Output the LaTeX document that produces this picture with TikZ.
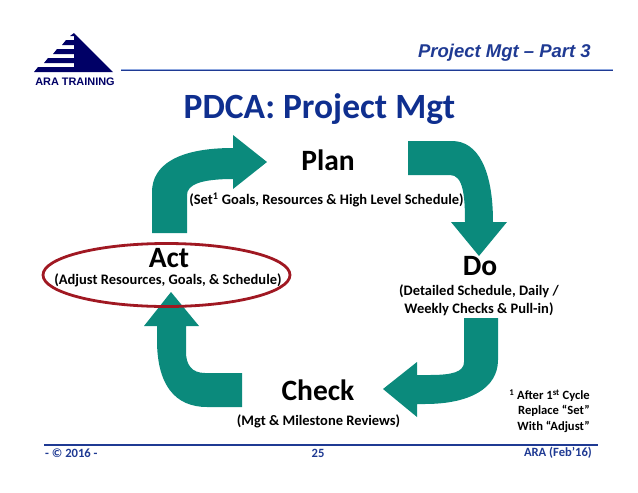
\documentclass[tikz,border=0pt]{standalone}
\usepackage{fontspec}
\setmainfont{Carlito}
\newfontfamily\headfont{Liberation Sans}
\definecolor{aranavy}{HTML}{000066}
\definecolor{arablue}{HTML}{1F3A93}
\definecolor{aralight}{HTML}{8FA8E0}
\definecolor{arateal}{HTML}{0B8A7C}
\definecolor{arared}{HTML}{A01822}
\definecolor{aratitle}{HTML}{0F2F8F}
\begin{document}
\begin{tikzpicture}[
    x=1pt, y=-1pt,
    every node/.style={inner sep=0pt, align=center},
    stage/.style={font=\fontsize{29.5}{30}\selectfont\bfseries, text=black},
    detail/.style={font=\fontsize{14.5}{18}\selectfont\bfseries, text=black},
    footer/.style={font=\fontsize{12.6}{13}\selectfont\bfseries, text=arablue},
    cyclearrow/.style={fill=arateal, draw=none},
    rule/.style={draw=arablue, line width=1.3pt}
]
  \useasboundingbox (0,0) rectangle (638,493);

  % Logo
  \fill[aranavy] (74,33) -- (113,72) -- (34,72) -- (38,67) -- (74,67) -- (74,63)
    -- (44,63) -- (48,58) -- (74,58) -- (74,54) -- (53,54) -- (57,49) -- (74,49)
    -- (74,45) -- (62,45) -- (66,40) -- (74,40) -- (74,36) -- (70,36) -- cycle;
  \node[font=\headfont\fontsize{10.9}{11}\selectfont\bfseries, text=aranavy] (logo) at (75,82) {ARA TRAINING};

  % Header and footer
  \draw[aralight, line width=1pt] (121,69.3) -- (613,69.3);
  \draw[rule] (121,70.8) -- (613,70.8);
  \draw[rule] (44,445) -- (598,445);
  \node[anchor=east, font=\headfont\fontsize{18.5}{19}\selectfont\bfseries\itshape, text=arablue] (part) at (591,53) {Project Mgt \textendash{} Part 3};
  \node[font=\fontsize{35.5}{36}\selectfont\bfseries, text=aratitle] (title) at (319.5,109.5) {PDCA: Project Mgt};

  % Arrows
  \path[cyclearrow] (152,233) -- (152,192) .. controls (152,165) and (178,148) .. (233,148)
    -- (233,135) -- (267,162) -- (233,189) -- (233,179)
    .. controls (200,179) and (187,185) .. (187,195) -- (187,233) -- cycle;
  \path[cyclearrow] (408,141) -- (452,141) .. controls (478,141) and (493,170) .. (493,222)
    -- (507,222) -- (479,256) -- (451,222) -- (465,222)
    .. controls (465,195) and (463,175) .. (450,175) -- (408,175) -- cycle;
  \path[cyclearrow] (498,318) -- (498,360) .. controls (498,388) and (470,404) .. (425,404)
    -- (417,404) -- (417,417) -- (383,389) -- (417,362) -- (417,375) -- (430,375)
    .. controls (452,375) and (464,372) .. (464,362) -- (464,318) -- cycle;
  \path[cyclearrow] (242,407) -- (207,407) .. controls (175,407) and (157,385) .. (157,340)
    -- (157,326) -- (144,326) -- (171,292) -- (199,326) -- (186,326) -- (186,352)
    .. controls (186,365) and (192,373) .. (205,373) -- (242,373) -- cycle;

  % Highlight
  \draw[arared, line width=2.8pt] (166.5,275) ellipse [x radius=123.5, y radius=31.5];

  % Labels
  \node[stage] (plan) at (328,160) {Plan};
  \node[detail] (plandetail) at (326.5,200) {(Set\textsuperscript{1} Goals, Resources \& High Level Schedule)};
  \node[stage] (act) at (169,258.5) {Act};
  \node[detail] (actdetail) at (168,280) {(Adjust Resources, Goals, \& Schedule)};
  \node[stage] (do) at (480,266) {Do};
  \node[detail] (dodetail) at (479,300) {(Detailed Schedule, Daily /\\Weekly Checks \& Pull-in)};
  \node[stage] (check) at (318,390) {Check};
  \node[detail] (checkdetail) at (318.5,421) {(Mgt \& Milestone Reviews)};
  \node[font=\fontsize{12.6}{15.5}\selectfont\bfseries, align=right, anchor=east] (note) at (590,411)
    {\textsuperscript{1} After 1\textsuperscript{st} Cycle\\Replace ``Set''\\With ``Adjust''};

  % Footer
  \node[footer, anchor=west] (copy) at (45,453) {- \textcopyright{} 2016 -};
  \node[footer] (page) at (318,453) {25};
  \node[footer, anchor=east] (ara) at (592,453) {ARA (Feb'16)};
\end{tikzpicture}
\end{document}
